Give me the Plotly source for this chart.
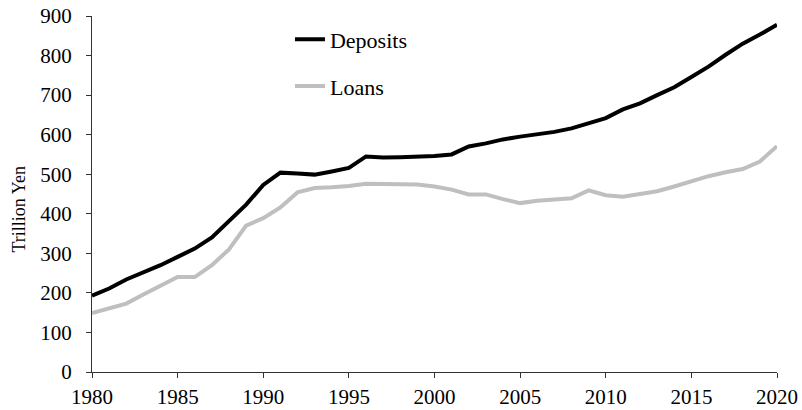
import plotly.graph_objects as go

years = list(range(1980, 2021))
deposits = [193, 211, 234, 251, 270, 291, 312, 340, 381, 423,
            473, 504, 502, 499, 507, 516, 545, 542, 543, 544,
            546, 550, 570, 578, 588, 595, 601, 607, 616, 628,
            642, 664, 679, 700, 720, 746, 772, 802, 830, 853,
            878]
loans = [149, 162, 173, 196, 217, 240, 240, 270, 310, 370,
         389, 416, 454, 465, 467, 470, 476, 476, 475, 474,
         469, 461, 449, 449, 437, 427, 433, 436, 439, 459,
         447, 443, 449, 457, 469, 482, 495, 505, 513, 532,
         571]
x_ticks = [1980, 1985, 1990, 1995, 2000, 2005, 2010, 2015, 2020]
y_ticks = [0, 100, 200, 300, 400, 500, 600, 700, 800, 900]

font_family = "Liberation Serif"

fig = go.Figure()
fig.add_trace(go.Scatter(x=years, y=deposits, mode="lines", name="Deposits",
                         line=dict(color="#000000", width=4), legend="legend",
                         showlegend=True))
fig.add_trace(go.Scatter(x=years, y=loans, mode="lines", name="Loans",
                         line=dict(color="#bfbfbf", width=4), legend="legend2",
                         showlegend=True))

leg_common = dict(xanchor="left", yanchor="middle", bgcolor="rgba(0,0,0,0)",
                  font=dict(size=22, family=font_family, color="#000000"))

fig.update_layout(
    width=802, height=410,
    showlegend=True,
    margin=dict(l=92, r=25, t=16, b=38),
    paper_bgcolor="white", plot_bgcolor="white",
    font=dict(family=font_family, size=21, color="#000000"),
    legend=dict(x=0.289, y=0.934, **leg_common),
    legend2=dict(x=0.289, y=0.803, **leg_common),
    xaxis=dict(range=[1980, 2020], tickvals=x_ticks, showgrid=False, zeroline=False,
               showline=True, linecolor="#333333", linewidth=1,
               ticks="outside", ticklen=5, tickcolor="#333333",
               tickfont=dict(size=21, family=font_family), automargin=False,
               ticklabelstandoff=1),
    yaxis=dict(range=[0, 900], tickvals=y_ticks, showgrid=False, zeroline=False,
               showline=True, linecolor="#333333", linewidth=1,
               ticks="outside", ticklen=5, tickcolor="#333333",
               tickfont=dict(size=21, family=font_family), automargin=False,
               ticklabelstandoff=10),
    annotations=[dict(text="Trillion Yen", textangle=-90, xref="paper", yref="paper",
                      x=-(92 - 18.5) / 685, y=(372 - 210) / 356,
                      xanchor="center", yanchor="middle", showarrow=False,
                      font=dict(size=18, family=font_family, color="#000000"))],
)

fig.write_html("out.html", config={"displayModeBar": False},
               post_script="document.body.style.margin='0';document.body.style.overflow='hidden';")
